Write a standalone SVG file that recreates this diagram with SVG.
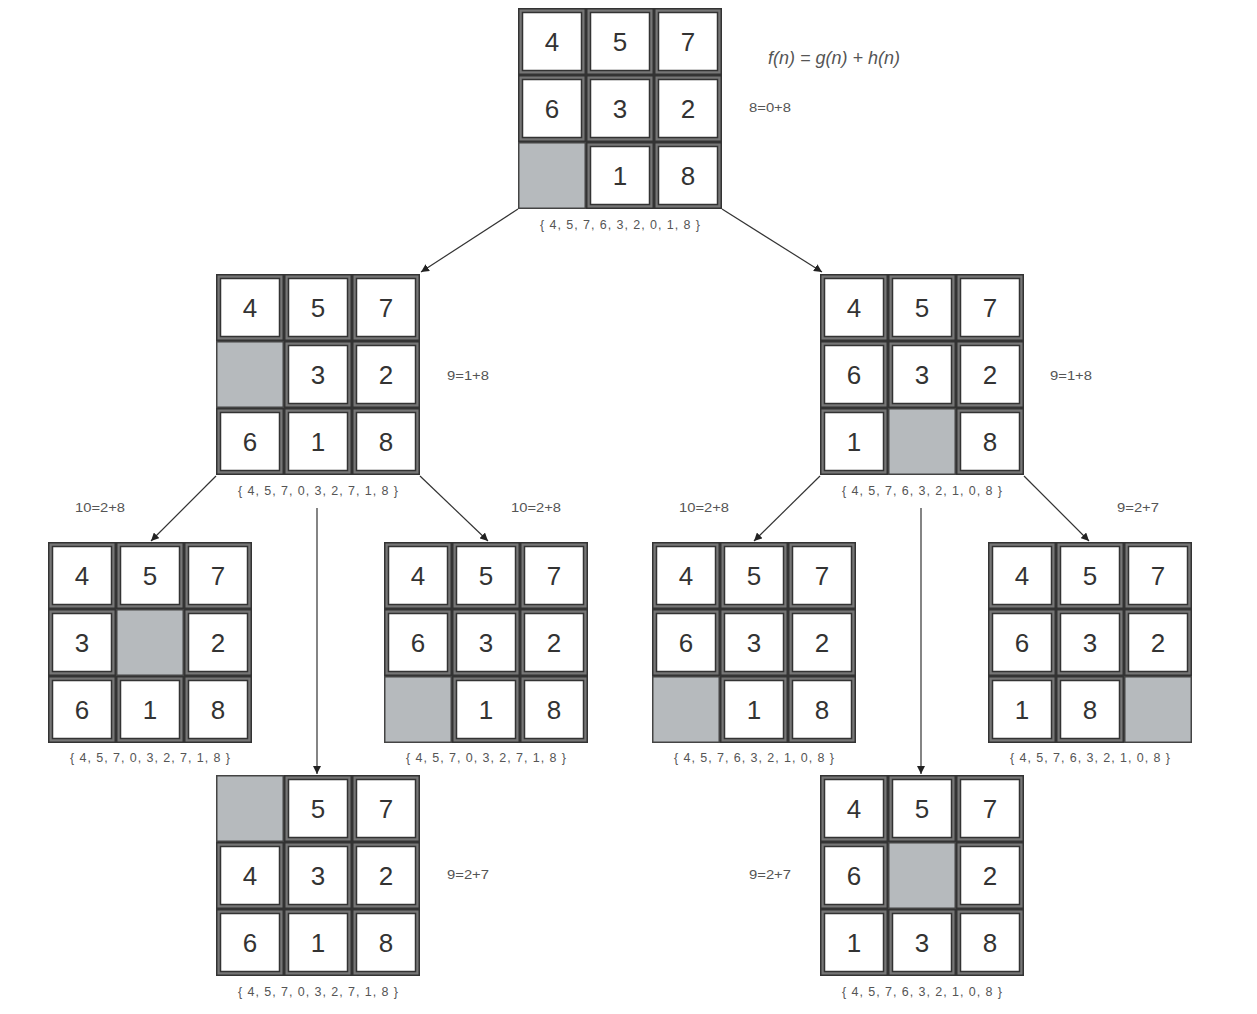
<svg xmlns="http://www.w3.org/2000/svg" xmlns:xlink="http://www.w3.org/1999/xlink" width="1257" height="1014" viewBox="0 0 1257 1014">
<style>
.n{font-family:"Liberation Sans",Arial,sans-serif;font-size:26px;fill:#333;text-anchor:middle}
.st{font-family:"Liberation Sans",Arial,sans-serif;font-size:12.5px;fill:#555;text-anchor:middle}
.fx{font-family:"Liberation Sans",Arial,sans-serif;font-size:13px;fill:#555}
.eq{font-family:"Liberation Sans",Arial,sans-serif;font-size:18px;font-style:italic;fill:#555}
.ln{stroke:#333;stroke-width:1.2;fill:none}
</style>
<defs>
<g id="cell"><rect x="0.75" y="0.75" width="66.5" height="65.5" fill="#767676" stroke="#333" stroke-width="1.5"/><rect x="4.5" y="4.5" width="59" height="58" fill="#fff" stroke="#333" stroke-width="1.5"/></g>
<g id="blank"><rect x="0.75" y="0.75" width="66.5" height="65.5" fill="#b6babd" stroke="#444" stroke-width="1.5"/></g>
<marker id="ah" viewBox="0 0 10 10" refX="10" refY="5" markerWidth="8" markerHeight="8" orient="auto" markerUnits="userSpaceOnUse"><path d="M0,0 L10,5 L0,10 z" fill="#222"/></marker>
</defs>
<rect width="1257" height="1014" fill="#fff"/>
<g id="connectors">
<line class="ln" x1="518" y1="209" x2="421" y2="272" marker-end="url(#ah)"/>
<line class="ln" x1="722" y1="209" x2="822" y2="272" marker-end="url(#ah)"/>
<line class="ln" x1="216" y1="476" x2="151" y2="541" marker-end="url(#ah)"/>
<line class="ln" x1="420" y1="476" x2="488" y2="541" marker-end="url(#ah)"/>
<line class="ln" x1="317" y1="508" x2="317" y2="774" marker-end="url(#ah)"/>
<line class="ln" x1="820" y1="476" x2="754" y2="541" marker-end="url(#ah)"/>
<line class="ln" x1="1024" y1="476" x2="1089" y2="541" marker-end="url(#ah)"/>
<line class="ln" x1="921" y1="508" x2="921" y2="774" marker-end="url(#ah)"/>
</g>
<g id="root">
<use href="#cell" x="518" y="8"/><use href="#cell" x="586" y="8"/><use href="#cell" x="654" y="8"/>
<use href="#cell" x="518" y="75"/><use href="#cell" x="586" y="75"/><use href="#cell" x="654" y="75"/>
<use href="#blank" x="518" y="142"/><use href="#cell" x="586" y="142"/><use href="#cell" x="654" y="142"/>
<text class="n" x="552" y="51">4</text><text class="n" x="620" y="51">5</text><text class="n" x="688" y="51">7</text>
<text class="n" x="552" y="118">6</text><text class="n" x="620" y="118">3</text><text class="n" x="688" y="118">2</text>
<text class="n" x="620" y="185">1</text><text class="n" x="688" y="185">8</text>
<text class="st" x="620" y="229" textLength="160" lengthAdjust="spacing">{ 4, 5, 7, 6, 3, 2, 0, 1, 8 }</text>
<text class="eq" x="768" y="64">f(n) = g(n) + h(n)</text>
<text class="fx" x="749" y="112" textLength="42" lengthAdjust="spacingAndGlyphs">8=0+8</text>
</g>
<g id="l2-left">
<use href="#cell" x="216" y="274"/><use href="#cell" x="284" y="274"/><use href="#cell" x="352" y="274"/>
<use href="#blank" x="216" y="341"/><use href="#cell" x="284" y="341"/><use href="#cell" x="352" y="341"/>
<use href="#cell" x="216" y="408"/><use href="#cell" x="284" y="408"/><use href="#cell" x="352" y="408"/>
<text class="n" x="250" y="317">4</text><text class="n" x="318" y="317">5</text><text class="n" x="386" y="317">7</text>
<text class="n" x="318" y="384">3</text><text class="n" x="386" y="384">2</text>
<text class="n" x="250" y="451">6</text><text class="n" x="318" y="451">1</text><text class="n" x="386" y="451">8</text>
<text class="st" x="318" y="495" textLength="160" lengthAdjust="spacing">{ 4, 5, 7, 0, 3, 2, 7, 1, 8 }</text>
<text class="fx" x="447" y="380" textLength="42" lengthAdjust="spacingAndGlyphs">9=1+8</text>
</g>
<g id="l2-right">
<use href="#cell" x="820" y="274"/><use href="#cell" x="888" y="274"/><use href="#cell" x="956" y="274"/>
<use href="#cell" x="820" y="341"/><use href="#cell" x="888" y="341"/><use href="#cell" x="956" y="341"/>
<use href="#cell" x="820" y="408"/><use href="#blank" x="888" y="408"/><use href="#cell" x="956" y="408"/>
<text class="n" x="854" y="317">4</text><text class="n" x="922" y="317">5</text><text class="n" x="990" y="317">7</text>
<text class="n" x="854" y="384">6</text><text class="n" x="922" y="384">3</text><text class="n" x="990" y="384">2</text>
<text class="n" x="854" y="451">1</text><text class="n" x="990" y="451">8</text>
<text class="st" x="922" y="495" textLength="160" lengthAdjust="spacing">{ 4, 5, 7, 6, 3, 2, 1, 0, 8 }</text>
<text class="fx" x="1050" y="380" textLength="42" lengthAdjust="spacingAndGlyphs">9=1+8</text>
</g>
<g id="l3-a">
<use href="#cell" x="48" y="542"/><use href="#cell" x="116" y="542"/><use href="#cell" x="184" y="542"/>
<use href="#cell" x="48" y="609"/><use href="#blank" x="116" y="609"/><use href="#cell" x="184" y="609"/>
<use href="#cell" x="48" y="676"/><use href="#cell" x="116" y="676"/><use href="#cell" x="184" y="676"/>
<text class="n" x="82" y="585">4</text><text class="n" x="150" y="585">5</text><text class="n" x="218" y="585">7</text>
<text class="n" x="82" y="652">3</text><text class="n" x="218" y="652">2</text>
<text class="n" x="82" y="719">6</text><text class="n" x="150" y="719">1</text><text class="n" x="218" y="719">8</text>
<text class="st" x="150" y="762" textLength="160" lengthAdjust="spacing">{ 4, 5, 7, 0, 3, 2, 7, 1, 8 }</text>
<text class="fx" x="75" y="512" textLength="50" lengthAdjust="spacingAndGlyphs">10=2+8</text>
</g>
<g id="l3-b">
<use href="#cell" x="384" y="542"/><use href="#cell" x="452" y="542"/><use href="#cell" x="520" y="542"/>
<use href="#cell" x="384" y="609"/><use href="#cell" x="452" y="609"/><use href="#cell" x="520" y="609"/>
<use href="#blank" x="384" y="676"/><use href="#cell" x="452" y="676"/><use href="#cell" x="520" y="676"/>
<text class="n" x="418" y="585">4</text><text class="n" x="486" y="585">5</text><text class="n" x="554" y="585">7</text>
<text class="n" x="418" y="652">6</text><text class="n" x="486" y="652">3</text><text class="n" x="554" y="652">2</text>
<text class="n" x="486" y="719">1</text><text class="n" x="554" y="719">8</text>
<text class="st" x="486" y="762" textLength="160" lengthAdjust="spacing">{ 4, 5, 7, 0, 3, 2, 7, 1, 8 }</text>
<text class="fx" x="511" y="512" textLength="50" lengthAdjust="spacingAndGlyphs">10=2+8</text>
</g>
<g id="l3-c">
<use href="#cell" x="652" y="542"/><use href="#cell" x="720" y="542"/><use href="#cell" x="788" y="542"/>
<use href="#cell" x="652" y="609"/><use href="#cell" x="720" y="609"/><use href="#cell" x="788" y="609"/>
<use href="#blank" x="652" y="676"/><use href="#cell" x="720" y="676"/><use href="#cell" x="788" y="676"/>
<text class="n" x="686" y="585">4</text><text class="n" x="754" y="585">5</text><text class="n" x="822" y="585">7</text>
<text class="n" x="686" y="652">6</text><text class="n" x="754" y="652">3</text><text class="n" x="822" y="652">2</text>
<text class="n" x="754" y="719">1</text><text class="n" x="822" y="719">8</text>
<text class="st" x="754" y="762" textLength="160" lengthAdjust="spacing">{ 4, 5, 7, 6, 3, 2, 1, 0, 8 }</text>
<text class="fx" x="679" y="512" textLength="50" lengthAdjust="spacingAndGlyphs">10=2+8</text>
</g>
<g id="l3-d">
<use href="#cell" x="988" y="542"/><use href="#cell" x="1056" y="542"/><use href="#cell" x="1124" y="542"/>
<use href="#cell" x="988" y="609"/><use href="#cell" x="1056" y="609"/><use href="#cell" x="1124" y="609"/>
<use href="#cell" x="988" y="676"/><use href="#cell" x="1056" y="676"/><use href="#blank" x="1124" y="676"/>
<text class="n" x="1022" y="585">4</text><text class="n" x="1090" y="585">5</text><text class="n" x="1158" y="585">7</text>
<text class="n" x="1022" y="652">6</text><text class="n" x="1090" y="652">3</text><text class="n" x="1158" y="652">2</text>
<text class="n" x="1022" y="719">1</text><text class="n" x="1090" y="719">8</text>
<text class="st" x="1090" y="762" textLength="160" lengthAdjust="spacing">{ 4, 5, 7, 6, 3, 2, 1, 0, 8 }</text>
<text class="fx" x="1117" y="512" textLength="42" lengthAdjust="spacingAndGlyphs">9=2+7</text>
</g>
<g id="l4-left">
<use href="#blank" x="216" y="775"/><use href="#cell" x="284" y="775"/><use href="#cell" x="352" y="775"/>
<use href="#cell" x="216" y="842"/><use href="#cell" x="284" y="842"/><use href="#cell" x="352" y="842"/>
<use href="#cell" x="216" y="909"/><use href="#cell" x="284" y="909"/><use href="#cell" x="352" y="909"/>
<text class="n" x="318" y="818">5</text><text class="n" x="386" y="818">7</text>
<text class="n" x="250" y="885">4</text><text class="n" x="318" y="885">3</text><text class="n" x="386" y="885">2</text>
<text class="n" x="250" y="952">6</text><text class="n" x="318" y="952">1</text><text class="n" x="386" y="952">8</text>
<text class="st" x="318" y="996" textLength="160" lengthAdjust="spacing">{ 4, 5, 7, 0, 3, 2, 7, 1, 8 }</text>
<text class="fx" x="447" y="879" textLength="42" lengthAdjust="spacingAndGlyphs">9=2+7</text>
</g>
<g id="l4-right">
<use href="#cell" x="820" y="775"/><use href="#cell" x="888" y="775"/><use href="#cell" x="956" y="775"/>
<use href="#cell" x="820" y="842"/><use href="#blank" x="888" y="842"/><use href="#cell" x="956" y="842"/>
<use href="#cell" x="820" y="909"/><use href="#cell" x="888" y="909"/><use href="#cell" x="956" y="909"/>
<text class="n" x="854" y="818">4</text><text class="n" x="922" y="818">5</text><text class="n" x="990" y="818">7</text>
<text class="n" x="854" y="885">6</text><text class="n" x="990" y="885">2</text>
<text class="n" x="854" y="952">1</text><text class="n" x="922" y="952">3</text><text class="n" x="990" y="952">8</text>
<text class="st" x="922" y="996" textLength="160" lengthAdjust="spacing">{ 4, 5, 7, 6, 3, 2, 1, 0, 8 }</text>
<text class="fx" x="749" y="879" textLength="42" lengthAdjust="spacingAndGlyphs">9=2+7</text>
</g>
</svg>
